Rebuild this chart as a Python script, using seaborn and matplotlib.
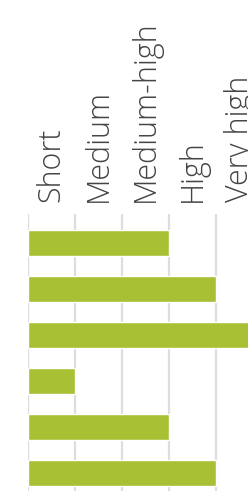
import matplotlib
matplotlib.use("Agg")
import matplotlib.pyplot as plt
import numpy as np
import pandas as pd
import seaborn as sns

# data
levels = ["Short", "Medium", "Medium-high", "High", "Very high"]
items = ["A", "B", "C", "D", "E", "F"]
scores = [3, 4, 5, 1, 3, 4]

BAR = "#a7c034"
GRID = "#dddddd"
TEXT = "#444444"

sns.set_theme(style="white")
plt.rcParams["font.family"] = ["Open Sans", "DejaVu Sans"]

df = pd.DataFrame({"item": items, "score": scores})

W, H = 248, 491
fig = plt.figure(figsize=(W / 100, H / 100), dpi=100)
# axes: left at 28px, one level = 47px, top at 214px
ax = fig.add_axes([28 / W, 0, 47 * len(levels) / W, (H - 214) / H])

sns.barplot(data=df, x="score", y="item", orient="h", color=BAR,
            width=26 / 46, saturation=1, ax=ax, zorder=3)

ax.set_xlim(0, len(levels))
ax.set_ylim(5.39, -0.63)

ax.xaxis.tick_top()
ax.set_xticks(np.arange(len(levels)) + 0.5)
ax.set_xticklabels(levels, rotation=90, fontsize=22, fontweight="light",
                   color=TEXT)
ax.set_xticks(np.arange(len(levels) + 1), minor=True)
ax.tick_params(axis="x", which="major", length=0, pad=8.5)
ax.tick_params(axis="x", which="minor", length=0)
ax.grid(axis="x", which="minor", color=GRID, linewidth=1.6, zorder=0)
ax.grid(axis="x", which="major", visible=False)

ax.set_yticks([])
ax.set_xlabel("")
ax.set_ylabel("")
for s in ax.spines.values():
    s.set_visible(False)

fig.savefig("out.png", dpi=100)
